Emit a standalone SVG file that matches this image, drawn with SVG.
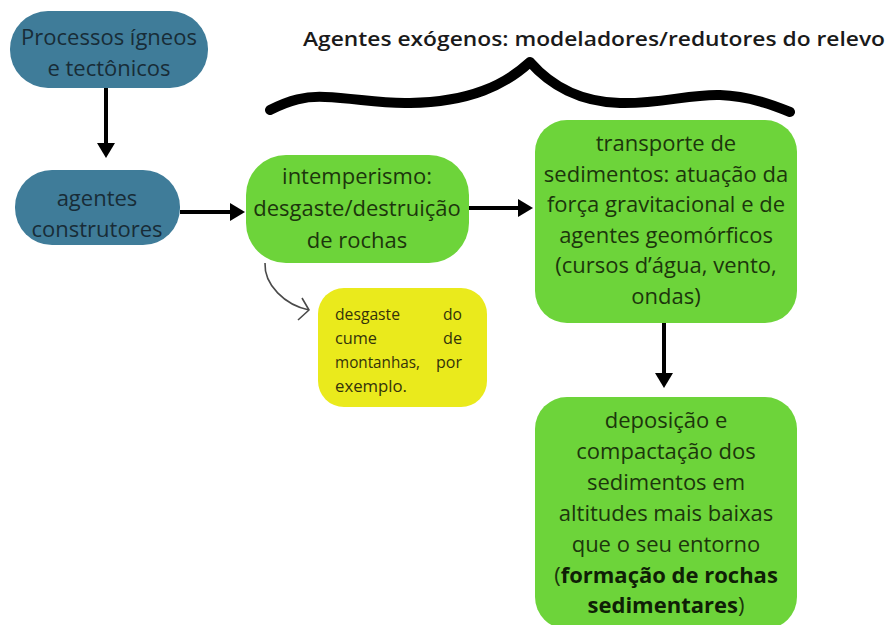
<svg xmlns="http://www.w3.org/2000/svg" width="893" height="625" viewBox="0 0 893 625">
<defs>
<style>
.blue{fill:#3f7c99}
.green{fill:#6dd43a}
.yellow{fill:#eaea1c}
text{font-family:"Open Sans","Noto Sans","Liberation Sans",sans-serif}
.tb{font-size:22px;fill:#182c37;text-anchor:middle}
.tg{font-size:22px;fill:#1c360c;text-anchor:middle}
.ty{font-size:17px;fill:#34330a}
.title{font-size:19px;font-weight:600;fill:#1a1a1a}
.conn{stroke:#000;stroke-width:4;fill:none}
</style>
<marker id="ah" viewBox="0 0 15 18" markerWidth="15" markerHeight="18" refX="1" refY="9" orient="auto" markerUnits="userSpaceOnUse">
<path d="M0,0 L15,9 L0,18 z" fill="#000"/>
</marker>
</defs>
<rect width="893" height="625" fill="#ffffff"/>

<g id="title">
<text class="title" x="303" y="46" textLength="582" lengthAdjust="spacingAndGlyphs">Agentes exógenos: modeladores/redutores do relevo</text>
</g>
<path id="brace" d="M270,110 C290,100 305,96 325,97 C355,98 380,104 410,103 C470,102 505,85 530,62 C550,85 580,102 620,103 C660,104 690,94 720,95 C750,96 775,106 790,112" fill="none" stroke="#000" stroke-width="10" stroke-linecap="round" stroke-linejoin="round"/>

<g id="connectors">
<line class="conn" x1="106" y1="88" x2="106" y2="144" marker-end="url(#ah)"/>
<line class="conn" x1="180" y1="212" x2="231" y2="212" marker-end="url(#ah)"/>
<line class="conn" x1="469" y1="208" x2="519" y2="208" marker-end="url(#ah)"/>
<line class="conn" x1="664" y1="323" x2="664" y2="374" marker-end="url(#ah)"/>
<path d="M265,263 C264,285 285,305 309,310" fill="none" stroke="#4a4a4a" stroke-width="1.6"/>
<path d="M302,298 L309,310 L298,320" fill="none" stroke="#4a4a4a" stroke-width="1.6" stroke-linejoin="round"/>
</g>

<g id="n1">
<rect class="blue" x="10" y="11" width="198" height="77" rx="38"/>
<text class="tb" x="109" y="45">Processos ígneos</text>
<text class="tb" x="109" y="76">e tectônicos</text>
</g>

<g id="n2">
<rect class="blue" x="15" y="170" width="165" height="75" rx="37"/>
<text class="tb" x="97" y="206">agentes</text>
<text class="tb" x="97" y="237">construtores</text>
</g>

<g id="n3">
<rect class="green" x="246" y="155" width="223" height="108" rx="40"/>
<text class="tg" x="357" y="184">intemperismo:</text>
<text class="tg" x="357" y="216">desgaste/destruição</text>
<text class="tg" x="357" y="248">de rochas</text>
</g>

<g id="n4">
<rect class="yellow" x="318" y="288" width="169" height="119" rx="26"/>
<text class="ty" x="335" y="320" textLength="65" lengthAdjust="spacingAndGlyphs">desgaste</text>
<text class="ty" x="443" y="320" textLength="19" lengthAdjust="spacingAndGlyphs">do</text>
<text class="ty" x="335" y="344" textLength="42" lengthAdjust="spacingAndGlyphs">cume</text>
<text class="ty" x="443" y="344" textLength="19" lengthAdjust="spacingAndGlyphs">de</text>
<text class="ty" x="335" y="368" textLength="85" lengthAdjust="spacingAndGlyphs">montanhas,</text>
<text class="ty" x="436" y="368" textLength="26" lengthAdjust="spacingAndGlyphs">por</text>
<text class="ty" x="335" y="392" textLength="72" lengthAdjust="spacingAndGlyphs">exemplo.</text>
</g>

<g id="n5">
<rect class="green" x="535" y="120" width="262" height="203" rx="32"/>
<text class="tg" x="666" y="151">transporte de</text>
<text class="tg" x="666" y="182">sedimentos: atuação da</text>
<text class="tg" x="666" y="212">força gravitacional e de</text>
<text class="tg" x="666" y="243">agentes geomórficos</text>
<text class="tg" x="666" y="273">(cursos d’água, vento,</text>
<text class="tg" x="666" y="304">ondas)</text>
</g>

<g id="n6">
<rect class="green" x="535" y="397" width="262" height="232" rx="32"/>
<text class="tg" x="666" y="428">deposição e</text>
<text class="tg" x="666" y="459">compactação dos</text>
<text class="tg" x="666" y="490">sedimentos em</text>
<text class="tg" x="666" y="521">altitudes mais baixas</text>
<text class="tg" x="666" y="552">que o seu entorno</text>
<text class="tg" x="666" y="583">(<tspan font-weight="bold" fill="#0f1f06">formação de rochas</tspan></text>
<text class="tg" x="666" y="613"><tspan font-weight="bold" fill="#0f1f06">sedimentares</tspan>)</text>
</g>
</svg>
